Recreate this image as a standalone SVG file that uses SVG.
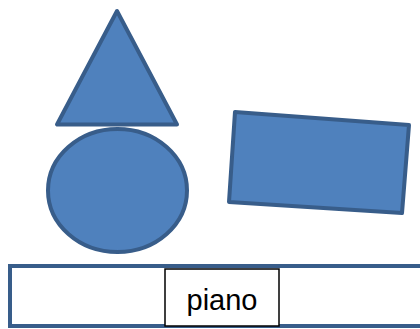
<svg xmlns="http://www.w3.org/2000/svg" width="420" height="329" viewBox="0 0 420 329">
<style>
.shape{fill:#4f81bd;stroke:#385d8a;stroke-width:4;stroke-linejoin:round}
.lbl{font-family:"Liberation Sans",Arial,sans-serif;font-size:29px;fill:#000}
</style>
<rect width="420" height="329" fill="#fff"/>
<g id="circle"><ellipse class="shape" cx="117.5" cy="190.5" rx="69.5" ry="61.5"/></g>
<g id="triangle"><polygon class="shape" points="117,11 57,124.5 177,124.5"/></g>
<g id="rectangle"><polygon class="shape" points="235,112 409,125 402,213 229,202"/></g>
<g id="bar"><rect x="10" y="266" width="420" height="60" fill="#fff" stroke="#385d8a" stroke-width="4"/></g>
<g id="piano"><rect x="165" y="269" width="114" height="57" fill="#fff" stroke="#000" stroke-width="1.5"/>
<text class="lbl" x="222" y="310" text-anchor="middle">piano</text></g>
<g id="connectors"/>
</svg>
